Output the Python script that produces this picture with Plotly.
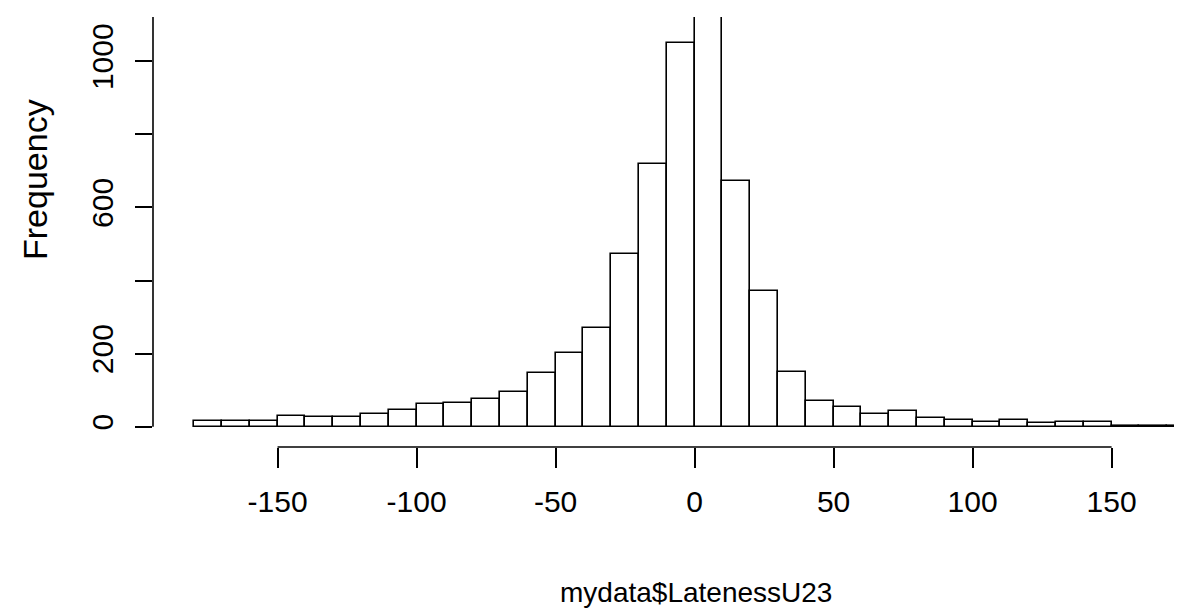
import plotly.graph_objects as go

# Histogram of mydata$LatenessU23 (bin width 10)
bin_left = [-180, -170, -160, -150, -140, -130, -120, -110, -100, -90, -80, -70,
            -60, -50, -40, -30, -20, -10, 0, 10, 20, 30, 40, 50, 60, 70, 80, 90,
            100, 110, 120, 130, 140, 150, 160, 170, 180]
counts = [16, 15, 15, 29, 27, 27, 35, 47, 61, 66, 77, 96,
          148, 203, 269, 472, 720, 1049, 1240, 671, 371, 149, 71, 54, 36, 42, 25, 18,
          12, 18, 11, 12, 13, 3, 3, 2, 2]
bin_width = 10

x_ticks = [-150, -100, -50, 0, 50, 100, 150]
y_ticks = [0, 200, 400, 600, 800, 1000]
y_tick_text = ["0", "200", "", "600", "", "1000"]

W, H = 1182, 609
L, R, T, B = 145, 0, 9, 170
X_RANGE = [-194.8, 178.2]
Y_RANGE = [-55.3, 1120.9]

centers = [b + bin_width / 2 for b in bin_left]

fig = go.Figure()
fig.add_trace(go.Bar(
    x=centers, y=counts, width=bin_width,
    marker=dict(color="white", line=dict(color="black", width=1.6)),
    hoverinfo="x+y",
))

font = "Liberation Sans, Arial, sans-serif"

fig.update_layout(
    width=W, height=H,
    margin=dict(l=L, r=R, t=T, b=B, pad=0),
    paper_bgcolor="white", plot_bgcolor="white",
    showlegend=False, bargap=0,
    xaxis=dict(
        range=X_RANGE, showgrid=False, zeroline=False, showline=False,
        tickmode="array", tickvals=x_ticks, ticktext=[str(v) for v in x_ticks],
        ticks="outside", ticklen=20, tickwidth=1.6, tickcolor="black",
        tickfont=dict(family=font, size=30, color="black"),
        ticklabelstandoff=8,
    ),
    yaxis=dict(
        range=Y_RANGE, showgrid=False, zeroline=False, showline=False,
        tickmode="array", tickvals=y_ticks, ticktext=y_tick_text,
        ticks="outside", ticklen=17, tickwidth=1.6, tickcolor="black",
        tickangle=-90,
        tickfont=dict(family=font, size=30, color="black"),
        ticklabelstandoff=10,
    ),
    shapes=[
        dict(type="line", xref="x", yref="paper", x0=x_ticks[0], x1=x_ticks[-1],
             y0=0, y1=0, line=dict(color="black", width=1.6)),
        dict(type="line", xref="paper", yref="y", x0=0, x1=0,
             y0=0, y1=Y_RANGE[1], line=dict(color="black", width=1.6)),
    ],
    annotations=[
        dict(text="mydata$LatenessU23", xref="paper", yref="paper",
             x=(688 - L) / (W - L - R), y=(439 - 584) / (H - T - B),
             xanchor="center", yanchor="middle", showarrow=False,
             font=dict(family=font, size=28, color="black")),
        dict(text="Frequency", xref="paper", yref="paper", textangle=-90,
             x=(27 - L) / (W - L - R), y=(439 - 172) / (H - T - B),
             xanchor="center", yanchor="middle", showarrow=False,
             font=dict(family=font, size=34, color="black")),
    ],
)

fig.write_html("out.html")
